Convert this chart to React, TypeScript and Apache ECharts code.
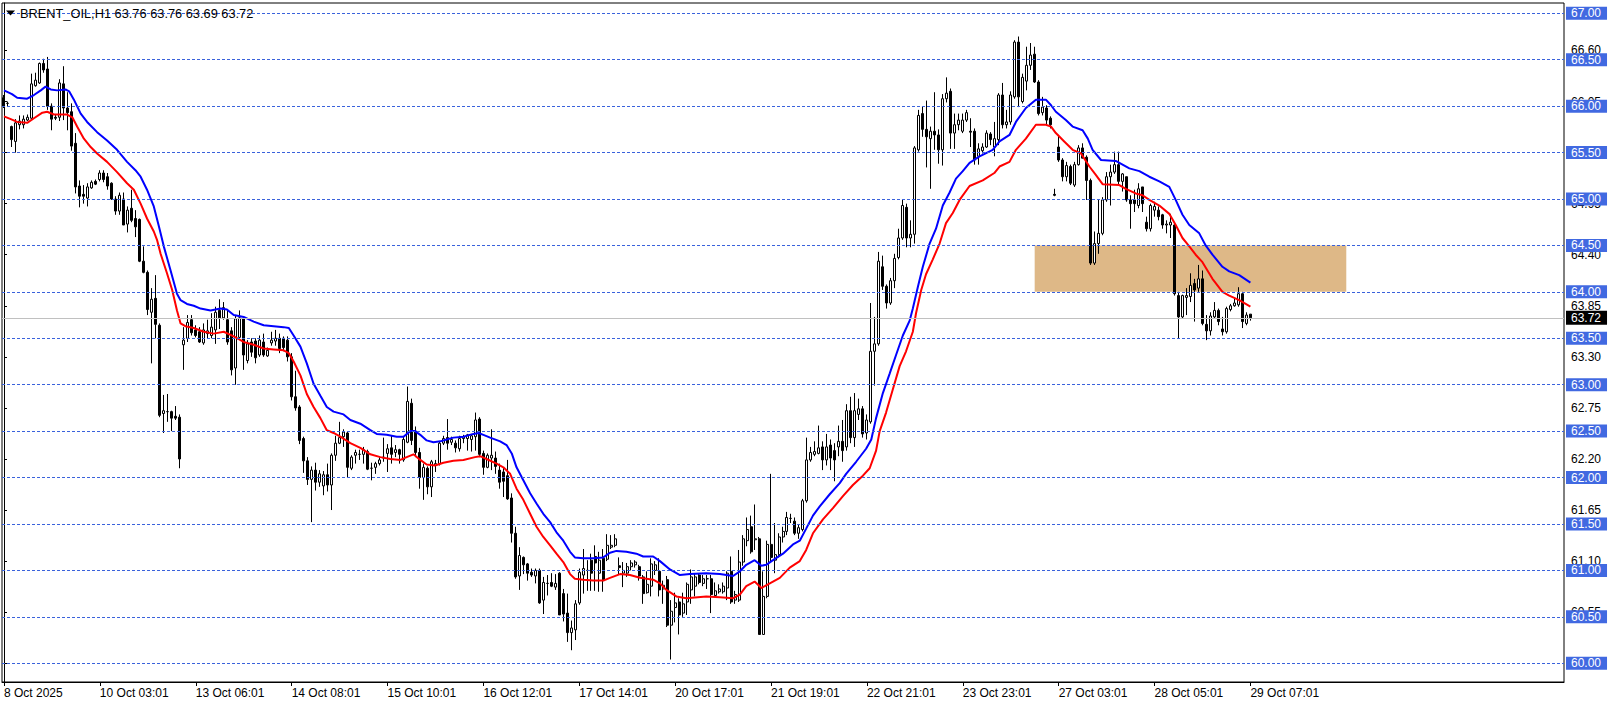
import React, { useEffect, useRef } from 'react';
import * as echarts from 'echarts';

const titleText = 'BRENT_OIL,H1 63.76 63.76 63.69 63.72';
const timeLabels = ['8 Oct 2025', '10 Oct 03:01', '13 Oct 06:01', '14 Oct 08:01', '15 Oct 10:01', '16 Oct 12:01', '17 Oct 14:01', '20 Oct 17:01', '21 Oct 19:01', '22 Oct 21:01', '23 Oct 23:01', '27 Oct 03:01', '28 Oct 05:01', '29 Oct 07:01'];
const labelEvery = 24;
const slotCount = 391;

// hourly bars: [open, high, low, close]
const bars: number[][] = [
  [66.09,66.12,65.98,66.00],[66.03,66.05,66.00,66.03],[65.78,65.79,65.56,65.64],[65.62,65.86,65.50,65.82],[65.80,65.90,65.75,65.84],
  [65.80,65.90,65.76,65.86],[65.85,65.91,65.84,65.88],[65.87,66.35,65.85,66.24],[66.22,66.36,66.21,66.28],[66.25,66.47,66.24,66.46],
  [66.46,66.51,66.36,66.39],[66.40,66.53,65.96,66.00],[66.00,66.03,65.74,65.86],[65.88,65.91,65.85,65.87],[65.88,66.29,65.84,66.25],
  [66.24,66.43,65.85,65.98],[65.98,66.15,65.74,65.93],[65.94,66.03,65.52,65.57],[65.60,65.71,65.06,65.13],[65.14,65.20,64.91,65.03],
  [65.05,65.15,64.95,65.03],[65.01,65.17,64.92,65.13],[65.12,65.20,65.11,65.18],[65.19,65.21,65.15,65.16],[65.21,65.31,65.19,65.28],
  [65.28,65.31,65.18,65.21],[65.24,65.28,65.10,65.14],[65.17,65.18,64.99,65.00],[65.00,65.03,64.83,64.87],[64.87,65.07,64.83,65.04],
  [65.00,65.07,64.72,64.72],[64.73,64.92,64.64,64.88],[64.90,65.10,64.75,64.77],[64.79,64.88,64.59,64.70],[64.78,64.79,64.32,64.33],
  [64.33,64.49,64.20,64.21],[64.21,64.23,63.75,63.81],[63.78,64.04,63.23,63.92],[63.93,64.18,63.50,63.65],[63.64,63.66,62.65,62.67],
  [62.69,62.89,62.48,62.72],[62.71,62.90,62.60,62.71],[62.71,62.72,62.50,62.64],[62.66,62.77,62.62,62.64],[62.65,62.68,62.10,62.20],
  [63.43,63.62,63.16,63.48],[63.50,63.75,63.46,63.67],[63.70,63.75,63.53,63.56],[63.59,63.64,63.51,63.53],[63.57,63.62,63.45,63.46],
  [63.45,63.66,63.43,63.59],[63.55,63.70,63.50,63.58],[63.53,63.77,63.50,63.62],[63.59,63.84,63.44,63.78],[63.80,63.92,63.60,63.72],
  [63.72,63.89,63.70,63.83],[63.70,63.80,63.43,63.46],[63.58,63.62,63.10,63.16],[63.18,63.74,63.00,63.71],[63.51,63.80,63.49,63.72],
  [63.71,63.73,63.16,63.32],[63.26,63.48,63.23,63.44],[63.46,63.50,63.30,63.35],[63.47,63.50,63.23,63.29],[63.32,63.53,63.30,63.48],
  [63.46,63.55,63.30,63.32],[63.31,63.40,63.30,63.37],[63.45,63.57,63.42,63.48],[63.47,63.59,63.42,63.50],[63.50,63.55,63.34,63.39],
  [63.50,63.52,63.36,63.40],[63.48,63.52,63.25,63.30],[63.30,63.34,62.83,62.87],[62.87,63.15,62.72,62.75],[62.76,62.78,62.36,62.40],
  [62.42,62.44,62.05,62.18],[62.18,62.22,61.92,61.98],[61.98,62.12,61.52,62.08],[62.08,62.16,61.86,61.95],[61.95,62.08,61.90,62.04],
  [61.91,62.07,61.81,62.03],[62.03,62.15,61.85,61.92],[61.92,62.26,61.65,62.24],[62.24,62.45,62.18,62.37],[62.37,62.60,62.36,62.43],
  [62.44,62.52,62.33,62.49],[62.48,62.49,62.00,62.11],[62.10,62.24,62.08,62.22],[62.24,62.30,62.15,62.27],[62.25,62.30,62.19,62.25],
  [62.25,62.33,62.15,62.30],[62.28,62.30,62.08,62.09],[62.10,62.16,61.97,62.10],[62.11,62.17,62.04,62.15],[62.15,62.22,62.13,62.19],
  [62.21,62.43,62.17,62.22],[62.26,62.36,62.06,62.31],[62.32,62.45,62.15,62.25],[62.27,62.35,62.22,62.30],[62.30,62.31,62.15,62.25],
  [62.19,62.44,62.17,62.41],[62.38,62.98,62.37,62.82],[62.80,62.85,62.35,62.40],[62.50,62.55,62.22,62.27],[62.27,62.32,61.88,62.00],
  [62.00,62.15,61.76,62.11],[62.10,62.12,61.82,61.90],[61.90,62.19,61.79,62.17],[62.13,62.19,62.06,62.15],[62.15,62.39,62.13,62.37],
  [62.37,62.45,62.35,62.42],[62.43,62.63,62.30,62.37],[62.38,62.44,62.35,62.41],[62.37,62.40,62.27,62.32],[62.31,62.45,62.28,62.42],
  [62.42,62.46,62.37,62.44],[62.42,62.47,62.29,62.46],[62.41,62.47,62.28,62.45],[62.44,62.70,62.29,62.62],[62.63,62.65,62.22,62.25],
  [62.26,62.29,62.03,62.11],[62.11,62.26,62.10,62.24],[62.21,62.52,62.08,62.24],[62.21,62.28,62.04,62.12],[62.08,62.15,61.88,61.95],
  [62.06,62.11,61.79,61.96],[62.02,62.19,61.76,61.77],[61.78,61.83,61.30,61.40],[61.40,61.47,60.91,60.93],[60.94,61.25,60.79,61.16],
  [61.14,61.15,60.96,61.06],[61.07,61.08,60.89,60.97],[60.98,61.02,60.93,60.95],[60.94,61.02,60.86,61.00],[61.00,61.02,60.64,60.65],
  [60.68,60.93,60.53,60.87],[60.86,60.95,60.73,60.86],[60.87,60.97,60.82,60.83],[60.82,60.96,60.79,60.86],[60.97,60.98,60.52,60.52],
  [60.75,60.80,60.45,60.53],[60.54,60.75,60.23,60.33],[60.33,60.46,60.14,60.38],[60.36,60.68,60.25,60.64],[60.65,61.02,60.63,60.98],
  [60.95,61.23,60.75,61.02],[61.00,61.11,60.78,61.00],[61.11,61.18,60.78,60.97],[61.15,61.27,60.78,61.08],[60.97,61.20,60.77,61.11],
  [61.13,61.23,60.77,60.89],[61.12,61.39,61.10,61.27],[61.25,61.38,61.23,61.27],[61.27,61.39,61.25,61.34],[61.05,61.14,60.96,61.03],
  [60.97,61.09,60.82,61.00],[60.97,61.08,60.93,61.04],[61.04,61.11,61.00,61.08],[61.06,61.11,61.03,61.09],[61.04,61.06,60.89,60.94],
  [60.93,60.95,60.64,60.75],[60.76,60.99,60.75,60.85],[60.83,61.13,60.72,61.07],[61.00,61.10,60.95,61.06],[60.99,61.13,60.72,60.79],
  [60.80,60.89,60.64,60.84],[60.90,60.94,60.39,60.41],[60.41,60.68,60.04,60.56],[60.60,60.76,60.44,60.65],[60.66,60.70,60.31,60.52],
  [60.54,60.76,60.50,60.64],[60.66,60.87,60.52,60.85],[60.79,61.01,60.64,60.93],[60.83,60.97,60.72,60.93],[60.95,60.97,60.85,60.87],
  [60.86,60.95,60.83,60.91],[60.91,60.95,60.80,60.91],[60.91,60.95,60.54,60.74],[60.73,60.87,60.72,60.78],[60.77,60.85,60.75,60.80],
  [60.77,60.87,60.75,60.83],[60.81,60.99,60.68,60.97],[60.99,61.15,60.64,60.66],[60.68,60.78,60.64,60.74],[60.68,61.22,60.66,61.09],
  [61.09,61.38,61.05,61.34],[61.32,61.57,61.26,61.44],[61.47,61.59,61.18,61.20],[61.33,61.71,61.22,61.34],[61.34,61.36,60.31,60.31],
  [60.31,60.99,60.31,60.72],[60.72,61.32,60.70,61.28],[61.28,62.04,61.10,61.14],[61.11,61.51,60.97,61.17],[61.17,61.40,61.14,61.36],
  [61.36,61.47,61.30,61.42],[61.42,61.63,61.38,61.57],[61.56,61.61,61.51,61.56],[61.53,61.57,61.38,61.40],[61.40,61.50,61.34,61.46],
  [61.44,61.77,61.42,61.75],[61.75,62.43,61.73,62.19],[62.19,62.33,62.17,62.27],[62.25,62.39,62.23,62.28],[62.26,62.56,62.25,62.32],
  [62.33,62.39,62.08,62.19],[62.19,62.47,62.13,62.33],[62.35,62.41,62.08,62.21],[62.29,62.37,61.96,62.19],[62.33,62.56,62.23,62.39],
  [62.39,62.62,62.17,62.29],[62.33,62.79,62.29,62.72],[62.72,62.87,62.37,62.43],[62.43,62.91,62.33,62.72],[62.68,62.85,62.62,62.74],
  [62.74,62.77,62.43,62.47],[62.48,62.68,62.41,62.62],[62.60,63.88,62.58,63.36],[63.36,63.73,62.99,63.44],[63.44,64.43,63.42,64.33],
  [64.27,64.39,64.02,64.06],[64.06,64.08,63.82,63.88],[63.88,64.15,63.86,64.12],[64.12,64.41,64.04,64.36],[64.37,64.68,64.35,64.58],
  [64.58,64.99,64.56,64.93],[64.91,64.95,64.48,64.58],[64.58,64.77,64.48,64.62],[64.62,65.57,64.52,65.55],[65.53,65.96,65.51,65.90],
  [65.92,66.00,65.67,65.75],[65.75,66.06,65.34,65.67],[65.65,65.78,65.11,65.73],[65.73,66.15,65.53,65.69],[65.69,65.75,65.38,65.53],
  [65.53,66.13,65.36,66.08],[66.08,66.31,66.04,66.14],[66.16,66.19,65.54,65.71],[65.71,65.92,65.54,65.80],[65.80,65.92,65.74,65.85],
  [65.73,65.92,65.71,65.85],[65.85,65.96,65.83,65.93],[65.73,65.87,65.56,65.72],[65.73,65.76,65.37,65.42],[65.46,65.60,65.37,65.54],
  [65.52,65.60,65.49,65.56],[65.56,65.74,65.55,65.71],[65.70,65.72,65.58,65.64],[65.56,65.83,65.46,65.65],[65.64,66.14,65.58,66.12],
  [66.12,66.25,65.76,65.80],[65.80,65.96,65.76,65.83],[65.83,66.16,65.80,66.12],[66.10,66.71,66.08,66.69],[66.69,66.75,65.99,66.10],
  [66.05,66.35,66.03,66.31],[66.27,66.64,66.17,66.44],[66.44,66.68,66.39,66.55],[66.56,66.64,66.25,66.26],[66.26,66.28,65.90,65.92],
  [65.93,66.10,65.90,65.99],[65.98,66.01,65.80,65.85],[65.87,65.89,65.76,65.80],[65.05,65.11,65.03,65.04],[65.56,65.69,65.40,65.42],
  [65.42,65.44,65.19,65.24],[65.24,65.40,65.19,65.36],[65.35,65.37,65.15,65.17],[65.15,65.40,65.13,65.37],[65.37,65.58,65.36,65.55],
  [65.55,65.60,65.44,65.44],[65.45,65.47,64.99,65.20],[65.20,65.22,64.29,64.31],[64.31,64.65,64.29,64.52],[64.52,64.99,64.41,64.63],
  [64.63,65.02,64.61,64.99],[64.99,65.29,64.97,65.24],[65.24,65.37,64.93,65.29],[65.29,65.51,65.27,65.37],[65.37,65.51,65.15,65.19],
  [65.19,65.28,65.08,65.27],[65.24,65.24,64.97,64.99],[64.99,65.04,64.68,64.95],[64.99,65.10,64.86,64.95],[64.93,65.17,64.90,65.11],
  [65.13,65.13,64.86,64.95],[64.75,64.81,64.65,64.68],[64.68,64.95,64.65,64.93],[64.88,64.97,64.81,64.92],[64.88,64.92,64.77,64.81],
  [64.83,64.84,64.68,64.72],[64.72,64.77,64.63,64.73],[64.72,64.84,64.58,64.75],[64.72,64.74,63.96,63.98],[63.96,64.00,63.50,63.73],
  [63.73,63.97,63.71,63.96],[63.94,64.04,63.75,63.96],[63.95,64.20,63.89,64.07],[64.09,64.14,63.68,64.02],[64.04,64.29,64.00,64.14],
  [64.14,64.23,63.64,63.66],[63.65,63.75,63.48,63.58],[63.58,63.78,63.53,63.74],[63.73,63.89,63.71,63.80],[63.80,63.82,63.64,63.68],
  [63.60,63.73,63.53,63.57],[63.57,63.84,63.55,63.82],[63.81,63.87,63.79,63.85],[63.85,63.93,63.84,63.88],[63.86,64.05,63.84,63.98],
  [63.98,64.00,63.61,63.68],[63.66,63.78,63.64,63.75],[63.76,63.76,63.69,63.72],
];

// moving average of highs (blue), read as [bar, price]
const maHigh: number[][] = [
  [0,66.17],[2,66.13],[3.3,66.09],[5.8,66.08],[7.5,66.12],[9.2,66.17],[10.4,66.21],[11.7,66.18],[13.3,66.17],[15.4,66.18],[16.3,66.16],[17.5,66.07],
  [19.2,65.92],[20.8,65.83],[23.3,65.72],[25.8,65.63],[28.3,65.53],[30.8,65.40],[32.9,65.31],[34.2,65.24],[35.8,65.10],[37.5,64.92],[38.8,64.70],
  [40,64.49],[41.7,64.23],[43.3,63.98],[44.2,63.91],[45.8,63.87],[47.5,63.85],[49.2,63.82],[51.7,63.80],[54.2,63.82],[55.8,63.81],[57.5,63.75],
  [60,63.73],[62.5,63.68],[65,63.64],[67.5,63.63],[70,63.62],[71.3,63.61],[72.5,63.53],[74.2,63.41],[75.8,63.23],[77.5,63.01],[79.2,62.88],
  [80.8,62.76],[82.5,62.71],[85,62.68],[86.7,62.62],[89.2,62.58],[91.7,62.51],[93.3,62.47],[95.8,62.46],[98.3,62.44],[100,62.44],[101.7,62.50],
  [102.9,62.50],[104.2,62.46],[105.8,62.40],[107.5,62.38],[109.2,62.39],[110.8,62.41],[112.5,62.43],[115,62.44],[117.5,62.47],[118.8,62.48],
  [120,62.46],[121.7,62.43],[124.2,62.39],[125.8,62.35],[127.1,62.26],[128.3,62.11],[130,61.97],[131.7,61.83],[133.3,61.72],[135,61.61],
  [136.7,61.52],[138.3,61.41],[140,61.32],[141.7,61.20],[142.9,61.14],[145,61.13],[147.5,61.13],[150,61.14],[151.7,61.19],[153.3,61.21],
  [155.8,61.20],[158.3,61.18],[160,61.15],[162.5,61.15],[164.2,61.10],[166.7,61.01],[169.2,60.95],[171.7,60.96],[175.8,60.97],[179.2,60.96],
  [182.5,60.94],[184.2,60.99],[185.8,61.06],[187.9,61.11],[189.6,61.05],[190.8,61.06],[192.5,61.11],[195,61.18],[197.5,61.28],[199.2,61.32],
  [200.8,61.45],[202.5,61.59],[204.2,61.69],[206.7,61.82],[209.2,61.94],[210.8,62.04],[213.3,62.17],[215.8,62.31],[217.1,62.41],[218.3,62.64],
  [220,62.91],[221.7,63.12],[223.3,63.32],[225,63.53],[226.7,63.69],[227.5,63.82],[228.8,64.06],[230,64.27],[231.7,64.52],[233.3,64.68],
  [235,64.93],[236.7,65.07],[238.3,65.22],[240,65.30],[241.7,65.39],[244.2,65.46],[247.5,65.53],[249.2,65.62],[251.7,65.69],[253.3,65.83],
  [255.8,65.98],[258.3,66.07],[260.8,66.07],[262.1,66.01],[263.3,65.94],[265.8,65.85],[267.5,65.78],[270,65.74],[271.3,65.65],[272.5,65.53],
  [274.6,65.42],[278.3,65.41],[281.7,65.33],[284.2,65.30],[286.7,65.24],[289.2,65.19],[291.7,65.13],[293.3,64.99],[295,64.83],[296.7,64.72],
  [299.2,64.63],[300.8,64.50],[302.5,64.40],[305,64.27],[306.7,64.22],[309.2,64.18],[312,64.10],
];

// moving average of lows (red), read as [bar, price]
const maLow: number[][] = [
  [0,65.89],[1.7,65.86],[3.3,65.83],[5.8,65.82],[7.5,65.87],[9.6,65.93],[10.8,65.94],[12.5,65.91],[15.8,65.91],[17.1,65.88],[18.3,65.78],
  [20,65.65],[21.7,65.56],[23.3,65.49],[25.8,65.40],[28.3,65.29],[30.8,65.17],[32.5,65.10],[34.2,64.95],[35.8,64.79],[37.5,64.65],[38.3,64.56],
  [39.2,64.41],[40.8,64.20],[42.1,64.02],[43.3,63.80],[44.2,63.66],[45.4,63.63],[47.5,63.61],[50,63.57],[52.5,63.55],[55,63.57],[57.5,63.52],
  [60,63.46],[62.5,63.43],[65,63.39],[67.5,63.38],[70,63.37],[71.3,63.34],[72.5,63.25],[74.2,63.10],[75.8,62.90],[77.5,62.76],[79.2,62.64],
  [80.8,62.51],[82.5,62.48],[84.2,62.44],[86.7,62.37],[89.2,62.32],[91.7,62.25],[94.2,62.22],[96.7,62.20],[99.2,62.19],[100.8,62.22],[102.5,62.25],
  [104.2,62.19],[105.8,62.14],[107.9,62.13],[110,62.16],[112.5,62.18],[115,62.19],[117.9,62.22],[119.2,62.23],[120.8,62.20],[123.3,62.15],
  [125,62.11],[126.7,62.04],[128.3,61.88],[130,61.76],[131.7,61.61],[133.3,61.47],[135,61.36],[136.7,61.27],[138.3,61.18],[140,61.09],
  [141.7,60.96],[142.9,60.91],[145,60.90],[147.5,60.89],[150,60.89],[151.7,60.92],[154.2,60.96],[156.7,60.95],[159.2,60.92],[162.5,60.90],
  [164.2,60.86],[165.8,60.79],[168.3,60.72],[170.8,60.70],[175.8,60.72],[179.2,60.71],[182.5,60.70],[184.2,60.74],[185.8,60.83],[187.9,60.88],
  [189.6,60.81],[191.7,60.86],[194.2,60.92],[196.7,61.03],[199.2,61.10],[200.8,61.22],[202.5,61.40],[205,61.55],[207.5,61.67],[210,61.80],
  [212.5,61.92],[215,62.02],[216.7,62.10],[218.3,62.29],[219.2,62.50],[220.8,62.70],[222.5,62.95],[224.2,63.20],[225.8,63.36],[227.5,63.57],
  [228.3,63.77],[229.6,64.02],[230.8,64.19],[232.5,64.35],[234.2,64.52],[235.8,64.74],[237.5,64.85],[239.2,64.99],[241.7,65.14],[245,65.20],
  [247.9,65.28],[249.2,65.35],[251.7,65.40],[253.3,65.53],[255.8,65.65],[258.3,65.80],[260.8,65.80],[262.1,65.78],[263.3,65.71],[265.4,65.62],
  [267.5,65.53],[269.6,65.49],[271.7,65.35],[273.3,65.26],[275,65.16],[279.2,65.15],[280.8,65.11],[283.3,65.06],[285,65.04],[286.7,64.99],
  [289.2,64.93],[291.7,64.84],[293.3,64.72],[295,64.58],[296.7,64.49],[298.3,64.40],[300,64.32],[302.5,64.14],[305,64.00],[306.7,63.96],
  [309.2,63.91],[312,63.84],
];

const levelLines = [60.0, 60.5, 61.0, 61.5, 62.0, 62.5, 63.0, 63.5, 64.0, 64.5, 65.0, 65.5, 66.0, 66.5, 67.0];
const axisTickValues = [60.0, 60.55, 61.1, 61.65, 62.2, 62.75, 63.3, 63.85, 64.4, 64.95, 65.5, 66.05, 66.6];
const lastPrice = 63.72;
const zoneBars = [258, 336];
const zonePrices = [64.0, 64.5];
const yMin = 59.798;
const yMax = 67.111;

const FONT = "'Liberation Sans', Arial, sans-serif";

export default function App() {
  const ref = useRef<HTMLDivElement>(null);

  useEffect(() => {
    if (!ref.current) return;
    const chart = echarts.init(ref.current, undefined, { renderer: 'svg' });

    const categories: string[] = [];
    for (let i = 0; i < slotCount; i++) {
      const k = i / labelEvery;
      categories.push(i % labelEvery === 0 && k < timeLabels.length ? timeLabels[k] : '');
    }
    const showLabel = (index: number) => index % labelEvery === 0 && index / labelEvery < timeLabels.length;

    const fmt = (p: any) => Number(p.value).toFixed(2);

    const lineMarks: any[] = levelLines.map((v) => ({
      yAxis: v,
      lineStyle: { color: '#3A62DC', type: [3, 2], width: 1 },
      label: {
        show: true, position: 'end', distance: 2, formatter: fmt,
        color: '#ffffff', backgroundColor: '#4169E1', padding: [1, 6, 0, 5],
        fontSize: 12, lineHeight: 12, fontFamily: FONT,
      },
    }));
    lineMarks.push({
      yAxis: lastPrice,
      lineStyle: { color: '#C0C0C0', type: 'solid', width: 1 },
      label: {
        show: true, position: 'end', distance: 2, formatter: fmt,
        color: '#ffffff', backgroundColor: '#000000', padding: [1, 6, 1, 5],
        fontSize: 12, lineHeight: 12, fontFamily: FONT,
      },
    });

    chart.setOption({
      animation: false,
      backgroundColor: '#ffffff',
      grid: {
        left: 2, top: 3, width: 1562, height: 679,
        show: true, borderColor: '#000', borderWidth: 1, backgroundColor: '#ffffff',
      },
      xAxis: [
        {
          type: 'category', data: categories, boundaryGap: true,
          axisLine: { show: true, lineStyle: { color: '#000', width: 1 } },
          axisTick: { show: true, interval: showLabel, alignWithLabel: true, length: 4, lineStyle: { color: '#000' } },
          axisLabel: { interval: showLabel, align: 'left', margin: 5, color: '#000', fontSize: 12, fontFamily: FONT },
          splitLine: { show: false },
        },
        { type: 'value', min: -0.5, max: slotCount - 0.5, show: false, gridIndex: 0 },
      ],
      yAxis: {
        type: 'value', position: 'right', min: yMin, max: yMax, scale: true,
        axisLine: { show: true, lineStyle: { color: '#000', width: 1 } },
        axisTick: { show: true, customValues: axisTickValues, length: 3, inside: false, lineStyle: { color: '#000' } },
        axisLabel: {
          customValues: axisTickValues, formatter: (v: number) => v.toFixed(2),
          color: '#000', fontSize: 12, margin: 7, fontFamily: FONT,
        },
        splitLine: { show: false },
      },
      series: [
        {
          type: 'candlestick', xAxisIndex: 0, yAxisIndex: 0, barWidth: 2.5, z: 3,
          data: bars.map(([o, h, l, c]) => [o, c, l, h]),
          itemStyle: { color: '#ffffff', color0: '#000000', borderColor: '#000000', borderColor0: '#000000', borderWidth: 1 },
          silent: true,
        },
        {
          type: 'line', xAxisIndex: 1, yAxisIndex: 0, data: maHigh, showSymbol: false, symbol: 'none', z: 4,
          lineStyle: { color: '#0000FF', width: 2 }, silent: true,
          markArea: {
            silent: true,
            itemStyle: { color: '#DEB887', opacity: 1 },
            data: [[{ xAxis: zoneBars[0], yAxis: zonePrices[1] }, { xAxis: zoneBars[1], yAxis: zonePrices[0] }]],
          },
        },
        {
          type: 'line', xAxisIndex: 1, yAxisIndex: 0, data: maLow, showSymbol: false, symbol: 'none', z: 4,
          lineStyle: { color: '#FF0000', width: 2 }, silent: true,
          markLine: { silent: true, symbol: ['none', 'none'], animation: false, data: lineMarks },
        },
      ],
      graphic: [
        { type: 'polygon', shape: { points: [[6, 10.5], [15, 10.5], [10.5, 15.5]] }, style: { fill: '#000' }, z: 100 },
        {
          type: 'text', x: 20, y: 13.5, z: 100,
          style: { text: titleText, fill: '#000', fontSize: 12.8, fontFamily: FONT, verticalAlign: 'middle' },
        },
      ],
    });

    return () => chart.dispose();
  }, []);

  return (
    <div style={{ position: 'fixed', left: 0, top: 0, width: 1614, height: 706, background: '#fff' }}>
      <div ref={ref} style={{ width: 1614, height: 706 }} />
    </div>
  );
}
